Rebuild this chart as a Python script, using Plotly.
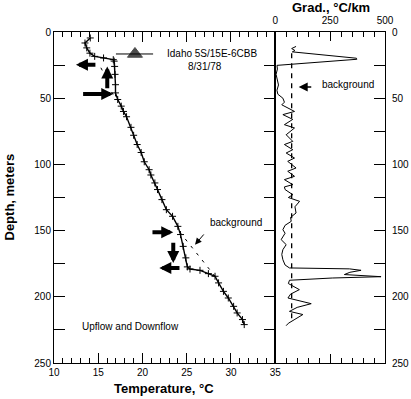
import plotly.graph_objects as go

# ---------------- data ----------------
temp_depth = [4.5, 8.3, 12.0, 16.0, 18.4, 19.6, 20.9, 22.0, 26.0, 32.0, 39.8, 46.0,
              51.0, 56.0, 60.0, 64.0, 72.0, 78.0, 85.0, 91.0, 98.0, 104.0, 108.0,
              114.0, 119.0, 126.6, 134.2, 139.2, 146.8, 153.0, 161.9, 170.6, 177.4,
              179.0, 180.0, 182.5, 184.5, 189.5, 195.9, 200.9, 207.2, 212.2, 217.2, 221.0]
temp_c = [14.1, 13.5, 13.7, 14.06, 14.6, 15.6, 16.7, 16.8, 16.85, 16.9, 16.95, 16.95,
          17.2, 17.6, 17.85, 18.2, 18.7, 19.0, 19.4, 19.85, 20.2, 20.75, 20.95,
          21.4, 21.7, 22.2, 22.7, 23.4, 24.0, 24.3, 24.6, 24.9, 25.07,
          25.37, 26.5, 27.45, 28.2, 28.6, 29.15, 29.7, 30.3, 30.7, 31.3, 31.5]

bg_upper_temp = [15.3, 16.0, 16.1, 16.9]
bg_upper_depth = [27.0, 36.0, 42.3, 48.6]
bg_lower_temp = [24.2, 28.2]
bg_lower_depth = [151.0, 184.5]

grad_depth = [10.9, 12.5, 14.0, 15.0, 19.8, 20.6, 25.2, 28.0, 32.0, 37.0, 40.0, 44.0,
              47.0, 50.0, 53.0, 55.0, 57.4, 60.0, 62.4, 66.0, 70.0, 72.5, 77.6, 82.6,
              85.0, 88.9, 91.4, 95.2, 97.7, 100.0, 102.7, 105.2, 109.0, 111.5, 115.3,
              117.0, 119.0, 122.9, 125.0, 127.9, 132.0, 136.7, 140.0, 143.0, 146.0,
              149.3, 152.0, 156.8, 160.6, 164.4, 168.0, 172.0, 176.0, 178.2, 178.9,
              180.0, 181.5, 183.2, 184.8, 185.8, 187.5, 190.0, 194.6, 198.0, 200.9,
              205.2, 208.0, 211.0, 213.4, 217.0, 220.0, 221.8]
grad_val = [95, 75, 90, 78, 370, 372, 8, 10, 4, 10, 15, 8,
            12, 35, 42, 30, 57, 88, 35, 80, 42, 88, 50, 80,
            42, 80, 50, 88, 57, 73, 95, 57, 88, 42, 80,
            42, 45, 80, 60, 111, 90, 95, 70, 73, 45,
            35, 45, 27, 50, 35, 30, 35, 45, 65, 338,
            391, 340, 315, 482, 260, 65, 60, 110, 70, 58,
            164, 100, 65, 126, 90, 60, 50]

grad_bg_val = [75, 75]
grad_bg_depth = [16.0, 218.0]

depth_ticks = [0, 25, 50, 75, 100, 125, 150, 175, 200, 225, 250]
depth_labels = ["0", "", "50", "", "100", "", "150", "", "200", "", "250"]
temp_ticks = [10, 15, 20, 25, 30, 35]
grad_ticks = [0, 250, 500]

# ---------------- figure ----------------
W, H = 411, 399
ML, MR, MT, MB = 54, 26, 32, 36
PW, PH = W - ML - MR, H - MT - MB

def px(x):
    return (x - ML) / PW
def py(y):
    return 1 - (y - MT) / PH

FONT = "Liberation Sans, Arial, sans-serif"
fig = go.Figure()

fig.add_trace(go.Scatter(x=temp_c, y=temp_depth, xaxis="x", yaxis="y", mode="lines+markers",
                         line=dict(color="black", width=1.4),
                         marker=dict(symbol="cross-thin", size=5, line=dict(color="black", width=1)),
                         showlegend=False, hoverinfo="skip"))
for xs, ys in [(bg_upper_temp, bg_upper_depth), (bg_lower_temp, bg_lower_depth)]:
    fig.add_trace(go.Scatter(x=xs, y=ys, xaxis="x", yaxis="y", mode="lines",
                             line=dict(color="black", width=1, dash="3px,6px"),
                             showlegend=False, hoverinfo="skip"))
# legend-like symbol line with triangle
fig.add_trace(go.Scatter(x=[17.0, 19.15, 21.2], y=[16.6, 16.6, 16.6], xaxis="x", yaxis="y",
                         mode="lines+markers", line=dict(color="black", width=1),
                         marker=dict(symbol="triangle-up", size=[0, 13, 0], color="black",
                                     line=dict(color="black", width=1)),
                         showlegend=False, hoverinfo="skip"))

fig.add_trace(go.Scatter(x=grad_val, y=grad_depth, xaxis="x2", yaxis="y2", mode="lines",
                         line=dict(color="black", width=1),
                         showlegend=False, hoverinfo="skip"))
fig.add_trace(go.Scatter(x=grad_bg_val, y=grad_bg_depth, xaxis="x2", yaxis="y2", mode="lines",
                         line=dict(color="black", width=1.3, dash="5px,5px"),
                         showlegend=False, hoverinfo="skip"))

xsplit = px(275.2)
tickfont = dict(family=FONT, size=10, color="black")
common = dict(showgrid=False, zeroline=False, showline=True, linecolor="black", linewidth=1,
              ticks="inside", tickcolor="black", tickwidth=1, tickfont=tickfont, automargin=False)

fig.update_layout(
    width=W, height=H, margin=dict(l=ML, r=MR, t=MT, b=MB, autoexpand=False),
    paper_bgcolor="white", plot_bgcolor="white",
    xaxis=dict(domain=[0, xsplit], range=[10, 35], anchor="y",
               tickvals=temp_ticks, ticklen=10, mirror="allticks",
               minor=dict(dtick=1, ticklen=5, ticks="inside", tickcolor="black", showgrid=False),
               **common),
    yaxis=dict(domain=[0, 1], range=[250, 0], anchor="x",
               tickvals=depth_ticks, ticktext=depth_labels, ticklen=11, mirror="allticks",
               **common),
    xaxis2=dict(domain=[xsplit, 1], range=[0, 500], anchor="y2", side="top",
                tickvals=grad_ticks, ticklen=9, mirror="allticks", ticklabelstandoff=3,
                minor=dict(dtick=50, ticklen=5, ticks="inside", tickcolor="black", showgrid=False),
                **common),
    yaxis2=dict(domain=[0, 1], range=[250, 0], anchor="x2", side="right",
                tickvals=depth_ticks, ticktext=depth_labels, ticklen=11, mirror=True,
                ticklabelstandoff=4,
                **common),
)

ann = []
def text(x, y, s, xref="x", yref="y", size=10, bold=False, xanchor="center", textangle=0):
    ann.append(dict(x=x, y=y, xref=xref, yref=yref, text=("<b>%s</b>" % s) if bold else s,
                    showarrow=False, xanchor=xanchor, yanchor="middle", textangle=textangle,
                    font=dict(family=FONT, size=size, color="black")))

text(22.55, 16.4, "Idaho 5S/15E-6CBB", xanchor="left")
text(27.1, 26.2, "8/31/78")
text(30.6, 143.8, "background")
text(18.7, 222.3, "Upflow and Downflow")
text(333, 39.8, "background", xref="x2", yref="y2")

text(px(163.5), py(388), "Temperature, °C", xref="paper", yref="paper", size=13, bold=True)
text(px(331), py(7), "Grad., °C/km", xref="paper", yref="paper", size=13, bold=True)
text(px(8.5), py(197), "Depth, meters", xref="paper", yref="paper", size=13, bold=True, textangle=-90)

def arrow(x0, y0, x1, y1, xr="x", yr="y", width=4, size=0.6, head=2):
    ann.append(dict(x=x1, y=y1, ax=x0, ay=y0, xref=xr, yref=yr, axref=xr, ayref=yr,
                    showarrow=True, arrowhead=head, arrowsize=size, arrowwidth=width,
                    arrowcolor="black", text=""))

# thick flow arrows (tail -> tip)
arrow(14.85, 24.7, 12.48, 24.7)
arrow(16.02, 43.6, 16.02, 26.0)
arrow(13.12, 46.8, 16.7, 46.8)
arrow(20.96, 151.3, 23.48, 151.3)
arrow(23.48, 158.0, 23.48, 174.4)
arrow(24.35, 178.2, 21.9, 178.2)
# thin pointer arrows
arrow(27.07, 151.8, 25.94, 160.6, width=1, size=1.3, head=2)
arrow(171, 41.5, 107, 41.5, xr="x2", yr="y2", width=1.5, size=1.2, head=2)

fig.update_layout(annotations=ann)
fig.write_html("out.html", config={"displayModeBar": False},
               post_script="document.body.style.margin='0';document.body.style.padding='0';")
